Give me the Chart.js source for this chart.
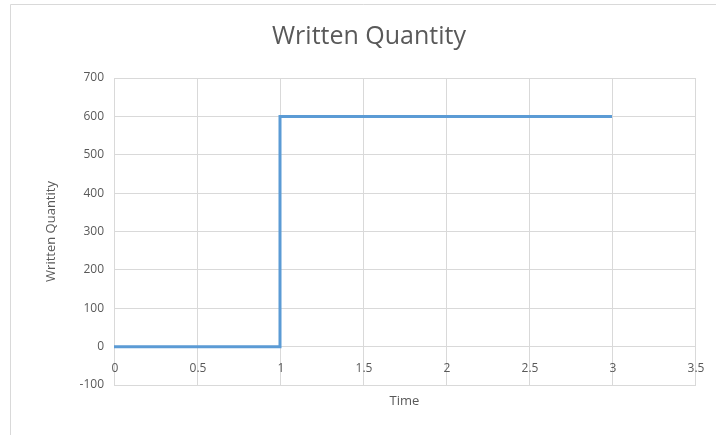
<!DOCTYPE html>
<html>
<head>
<meta charset="utf-8">
<script src="https://cdn.jsdelivr.net/npm/chart.js@4.4.1/dist/chart.umd.min.js"></script>
<style>
  html, body { margin: 0; padding: 0; background: #ffffff; }
  #wrap { width: 716px; height: 435px; position: relative; }
</style>
</head>
<body>
<div id="wrap"><canvas id="graficoWrittenQuantity"></canvas></div>
<script>
// dados
const timeValues = [0, 1, 1, 3]
const writtenQuantity = [0, 0, 600, 600]
const yMin = -100
const yMax = 700
const xMin = 0
const xMax = 3.5

const textColor = '#595959'
const gridColor = '#d9d9d9'

Chart.defaults.font.family = '"Open Sans", sans-serif'
Chart.defaults.color = textColor

// moldura do gráfico (estilo Excel)
const chartFrame = {
    id: 'chartFrame',
    beforeDraw(chart) {
        const ctx = chart.ctx
        ctx.save()
        ctx.strokeStyle = gridColor
        ctx.lineWidth = 1
        ctx.beginPath()
        ctx.moveTo(10.5, chart.height)
        ctx.lineTo(10.5, 4.5)
        ctx.lineTo(chart.width, 4.5)
        ctx.stroke()
        ctx.restore()
    }
}

// rótulos do eixo x desenhados logo abaixo da linha do zero
const xLabelsAtZero = {
    id: 'xLabelsAtZero',
    afterDraw(chart) {
        const x = chart.scales.x
        const y = chart.scales.y
        const ctx = chart.ctx
        const yZero = y.getPixelForValue(0)
        ctx.save()
        ctx.font = '12px "Open Sans", sans-serif'
        ctx.fillStyle = textColor
        ctx.textAlign = 'center'
        ctx.textBaseline = 'middle'
        x.ticks.forEach(t => {
            ctx.fillText(String(t.value), x.getPixelForValue(t.value) + 1, yZero + 22)
        })
        ctx.restore()
    }
}

const dados = timeValues.map((t, i) => ({ x: t, y: writtenQuantity[i] }))

window.graficoWrittenQuantity = new Chart(document.getElementById('graficoWrittenQuantity'), {
    type: 'line',
    data: {
        datasets: [{
            label: 'Written Quantity',
            data: dados,
            borderColor: '#5b9bd5',
            backgroundColor: '#5b9bd5',
            borderWidth: 3,
            borderJoinStyle: 'miter',
            pointRadius: 0,
            tension: 0,
            fill: false
        }]
    },
    options: {
        responsive: true,
        maintainAspectRatio: false,
        animation: false,
        layout: {
            padding: { left: 43, right: 21, top: 0, bottom: 0 }
        },
        plugins: {
            legend: { display: false },
            tooltip: { enabled: false },
            title: {
                display: true,
                text: 'Written Quantity',
                color: textColor,
                font: { size: 25, weight: 'normal', lineHeight: 1.2 },
                padding: { top: 22, bottom: 26 }
            }
        },
        scales: {
            x: {
                type: 'linear',
                min: xMin,
                max: xMax,
                ticks: { display: false, stepSize: 0.5 },
                grid: { color: gridColor, drawTicks: false },
                border: { color: gridColor },
                title: {
                    display: true,
                    text: 'Time',
                    color: textColor,
                    font: { size: 13, lineHeight: 1.2 },
                    padding: { top: 0, bottom: 26 }
                },
                afterFit(scale) { scale.height = 50 }
            },
            y: {
                type: 'linear',
                min: yMin,
                max: yMax,
                ticks: { stepSize: 100, padding: 10, font: { size: 12 }, color: textColor },
                grid: { color: gridColor, drawTicks: false },
                border: { color: gridColor },
                title: {
                    display: true,
                    text: 'Written Quantity',
                    color: textColor,
                    font: { size: 13, lineHeight: 1.2 },
                    padding: { top: 0, bottom: 0 }
                },
                afterFit(scale) { scale.width = 71 }
            }
        }
    },
    plugins: [chartFrame, xLabelsAtZero]
})
</script>
</body>
</html>
